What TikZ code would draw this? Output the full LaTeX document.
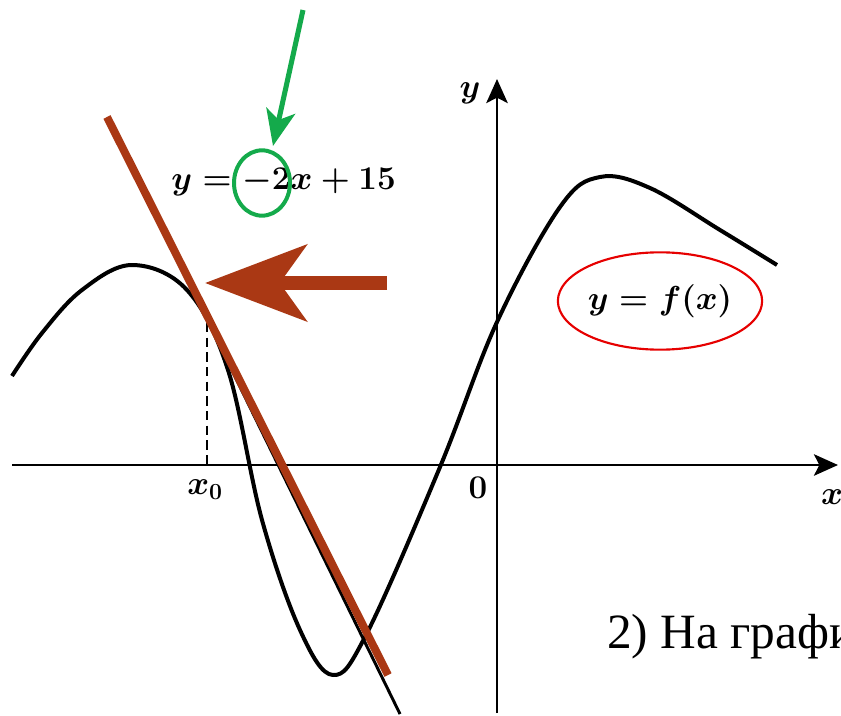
\documentclass[tikz,border=0pt]{standalone}
\usepackage{fontspec}
\newfontfamily\rufont{Liberation Serif}
\usetikzlibrary{arrows.meta,shapes.geometric}
\definecolor{tanbrown}{RGB}{170,56,20}
\definecolor{markgreen}{RGB}{20,170,75}
\definecolor{markred}{RGB}{230,0,0}
\tikzset{
	axis/.style={line width=2.2pt, -{Stealth[length=18pt, width=16pt, inset=4pt]}},
	graph/.style={line width=3pt, line join=round},
	lbl/.style={inner sep=0pt, font=\fontsize{23}{27}\selectfont\boldmath},
	eqn/.style={inner sep=0pt, font=\fontsize{26}{30}\selectfont\boldmath}
}
\begin{document}
\begin{tikzpicture}[x=0.75pt, y=-0.75pt]
		\useasboundingbox (0,0) rectangle (841,716);
		
		% 坐标轴
		\coordinate (xs) at (12,465);
		\coordinate (xe) at (838,465);
		\coordinate (ys) at (497,713);
		\coordinate (ye) at (497,79);
		\draw[axis] (xs) -- (xe);
		\draw[axis] (ys) -- (ye);
		\node[lbl] (ylab) at (470,93) {\(y\)};
		\node[lbl] (xlab) at (832,497) {\(x\)};
		\node[lbl] (olab) at (478,488) {\(0\)};
		\node[lbl] (x0lab) at (205,490) {\(x_0\)};
		
		% 函数图像 y=f(x)
		\draw[graph] plot[smooth, tension=0.6] coordinates {(12,376) (42,333) (82,290) (132,265) (187,290) (228,370) (262,520) (300,630) (333,675) (367,633) (440,467) (497,322) (560,207) (600,177) (650,188) (720,230) (777,265)};
		
		% 切点与虚线
		\coordinate (tp) at (207,323);
		\coordinate (tpx) at (207,465);
		\draw[line width=2pt, dash pattern=on 7pt off 4pt] (tp) -- (tpx);
		
		% 切线 (黑色原线与棕色覆盖线)
		\coordinate (ta) at (151,205);
		\coordinate (tb) at (400,714);
		\draw[line width=2.2pt] (ta) -- (tb);
		\coordinate (la) at (107,117);
		\coordinate (lb) at (388,675);
		\draw[tanbrown, line width=6pt] (la) -- (lb);
		
		% 切线方程与系数圈
		\node[eqn, anchor=west] (eq) at (171,182) {\(y = -2x + 15\)};
		\node[draw=markgreen, line width=3pt, ellipse, inner sep=0pt, minimum width=42pt, minimum height=49pt] (coef) at (262,183) {};
		\coordinate (gt) at (303,10);
		\coordinate (gh) at (273,146);
		\draw[markgreen, line width=3.8pt, -{Stealth[length=27pt, width=22pt, inset=7pt]}] (gt) -- (gh);
		
		% 指向切点的粗箭头
		\coordinate (at) at (387,283);
		\coordinate (ah) at (205,283);
		\draw[tanbrown, line width=11pt, -{Stealth[length=76pt, width=57pt, inset=20pt]}] (at) -- (ah);
		
		% 函数名称
		\node[eqn, draw=markred, line width=1.6pt, ellipse, minimum width=150pt, minimum height=73pt] (fname) at (660,301) {\(y = f(x)\)};
		
		% 右下角文字
		\node[anchor=base west, inner sep=0pt, font=\rufont\fontsize{37}{44}\selectfont] (note) at (607,648) {2) На графи};
	\end{tikzpicture}
\end{document}
